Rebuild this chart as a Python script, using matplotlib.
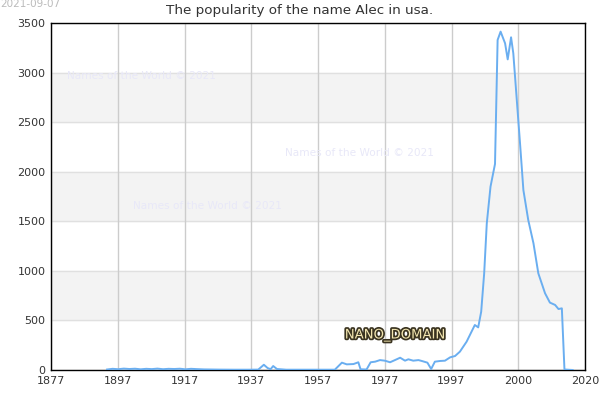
import numpy as np
import matplotlib.pyplot as plt
import matplotlib.patheffects as pe

# values
years = [1892, 1893.5, 1895, 1896.5, 1898, 1899.5, 1901, 1902.5, 1904, 1905.5, 1907, 1908.5,
         1910, 1911.5, 1913, 1914.5, 1916, 1918, 1922, 1926, 1930, 1932.5, 1933.3, 1934, 1935,
         1935.8, 1936.5, 1937.5, 1940, 1945, 1950, 1953, 1954.9, 1956.2, 1958, 1959.3, 1959.9,
         1961.5, 1962.6, 1963.8, 1965.1, 1966.4, 1967.8, 1969.1, 1970.5, 1971.8, 1972.7, 1974,
         1975.4, 1976.3, 1977.8, 1978.8, 1979.8, 1981.2, 1982.5, 1983.9, 1985.2, 1986.5, 1988.3,
         1990.5, 1991.4, 1992.2, 1993, 1993.7, 1994.7, 1995.9, 1996.6, 1997.4, 1998.6, 1999.3,
         2000.2, 2000.8, 2002.6, 2003.5, 2004.8, 2006.2, 2007.5, 2009.3, 2010.6, 2012, 2012.9,
         2013.8, 2014.5, 2016.7]
counts = [5, 12, 8, 14, 10, 13, 7, 12, 9, 14, 8, 12,
          10, 13, 7, 12, 9, 6, 4, 3, 3, 4, 30, 53, 20,
          8, 40, 10, 3, 3, 3, 3, 74, 57, 60, 78, 7,
          5, 78, 84, 100, 94, 78, 100, 124, 94, 108, 94,
          100, 91, 74, 10, 84, 91, 94, 128, 141, 185, 286,
          454, 430, 588, 975, 1480, 1850, 2078, 3329, 3413, 3295, 3133,
          3356, 3194, 2287, 1815, 1513, 1278, 975, 774, 680, 656, 615,
          622, 5, 0]

tick_pos = np.linspace(1877, 2020, 9)
tick_labels = ['1877', '1897', '1917', '1937', '1957', '1977', '1997', '2000', '2020']
y_ticks = [0, 500, 1000, 1500, 2000, 2500, 3000, 3500]

fig = plt.figure(figsize=(6, 4), dpi=100)
ax = fig.add_axes([0.085, 0.075, 0.89, 0.8675])

for lo in [500, 1500, 2500]:
    ax.axhspan(lo, lo + 500, color='#f3f3f3', zorder=0)
for y in y_ticks:
    ax.axhline(y, color='#e0e0e0', lw=1, zorder=1)
for x in tick_pos:
    ax.axvline(x, color='#cccccc', lw=1, zorder=1)

ax.plot(years, counts, color='#6aaef0', lw=1.4, zorder=3)

ax.set_xlim(1877, 2020)
ax.set_ylim(0, 3500)
ax.set_xticks(tick_pos)
ax.set_xticklabels(tick_labels)
ax.set_yticks(y_ticks)
ax.tick_params(length=0, labelsize=8, colors='#333333', pad=4)
for s in ax.spines.values():
    s.set_color('black')
    s.set_linewidth(1)

fig.text(0.5, 0.974, 'The popularity of the name Alec in usa.', ha='center', va='center',
         fontsize=9.7, color='#333333')
fig.text(0.0, 0.99, '2021-09-07', ha='left', va='center', fontsize=7.5, color='#bbbbbb')

wm = dict(ha='center', va='center', fontsize=7.6, color='#e8e8f8', zorder=2)
fig.text(141 / 600, 1 - 76 / 400, 'Names of the World © 2021', **wm)
fig.text(359 / 600, 1 - 153 / 400, 'Names of the World © 2021', **wm)
fig.text(207 / 600, 1 - 206 / 400, 'Names of the World © 2021', **wm)

t = fig.text(395 / 600, 1 - 335 / 400, 'NANO_DOMAIN', ha='center', va='center',
             fontsize=9.5, color='#f3e6b0', zorder=5)
t.set_path_effects([pe.withStroke(linewidth=2.5, foreground='#3a3320')])

fig.savefig('out.png', dpi=100)
